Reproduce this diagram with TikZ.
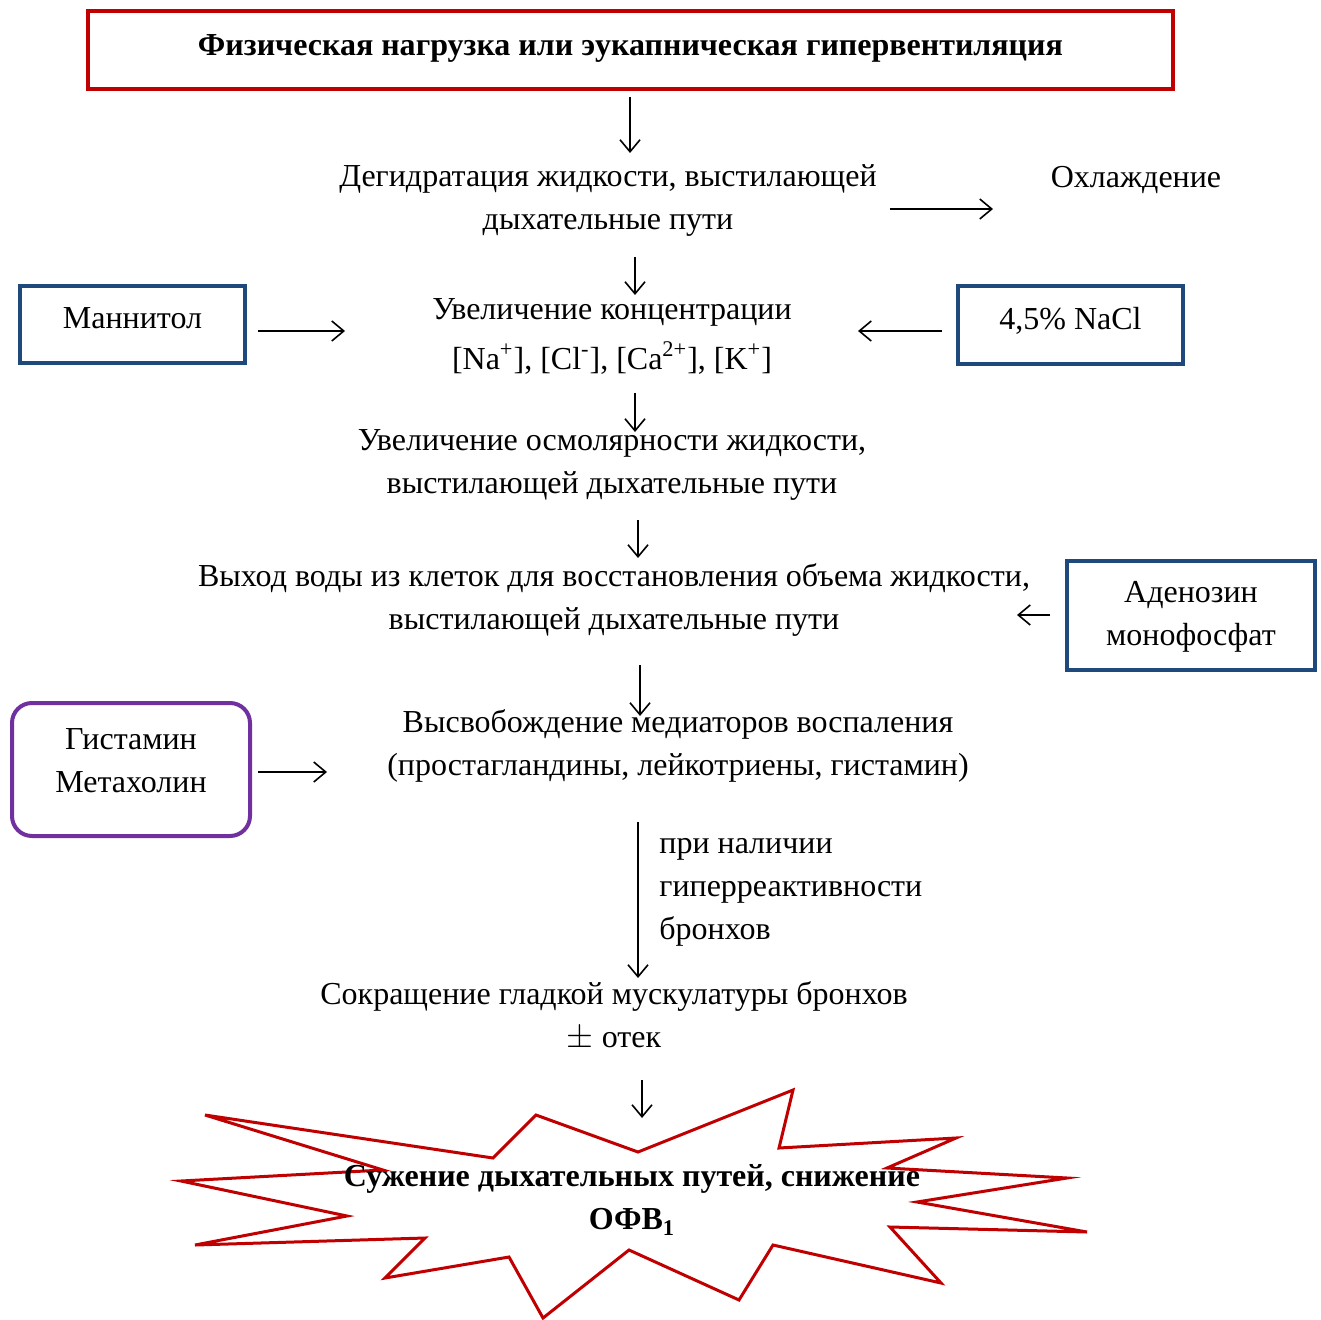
\documentclass[tikz,border=0pt]{standalone}
\usepackage{fontspec}
\setmainfont{Liberation Serif}
\usetikzlibrary{arrows.meta}
\definecolor{boxred}{RGB}{192,0,0}
\definecolor{boxblue}{RGB}{31,73,125}
\definecolor{boxviolet}{RGB}{112,48,160}
\tikzstyle{txt} = [align=center, inner sep=0pt, font=\fontsize{16}{21.5}\selectfont]
\tikzstyle{bluebox} = [txt, draw=boxblue, line width=2pt, minimum width=112.5pt]
\tikzstyle{arr} = [-{Straight Barb[length=6pt,width=10pt]}, line width=0.8pt]

\begin{document}
\begin{tikzpicture}[x=0.5pt, y=-0.5pt]
    \useasboundingbox (0,0) rectangle (1320,1320);
    % boxes and text
    \node[txt, draw=boxred, line width=2pt, minimum width=542.5pt, minimum height=39pt,
          font=\fontsize{16}{21.5}\selectfont\bfseries] (load) at (630.5,50)
          {Физическая нагрузка или эукапническая гипервентиляция\\[-17pt]};
    \node[txt] (dehyd) at (608,201) {Дегидратация жидкости, выстилающей\\дыхательные пути};
    \node[txt] (cool) at (1136,180) {Охлаждение};
    \node[txt] (conc) at (612,336) {Увеличение концентрации\\[3.5pt]
          [Na\textsuperscript{+}], [Cl\textsuperscript{-}], [Ca\textsuperscript{2+}], [K\textsuperscript{+}]};
    \node[bluebox, minimum height=38.5pt] (mann) at (132.5,324.5) {Маннитол\\[-15pt]};
    \node[bluebox, minimum height=39pt] (nacl) at (1070.5,325) {4,5\% NaCl\\[-15pt]};
    \node[txt] (osm) at (612,465) {Увеличение осмолярности жидкости,\\выстилающей дыхательные пути};
    \node[txt] (water) at (614,600) {Выход воды из клеток для восстановления объема жидкости,\\выстилающей дыхательные пути};
    \node[bluebox, minimum width=124pt, minimum height=54.5pt] (amp) at (1191,615.5) {Аденозин\\монофосфат\\[-19pt]};
    \node[txt] (med) at (678,746) {Высвобождение медиаторов воспаления\\(простагландины, лейкотриены, гистамин)};
    \node[txt, draw=boxviolet, line width=2pt, rounded corners=10pt, minimum width=119pt,
          minimum height=66.5pt] (hist) at (131,769.5) {Гистамин\\Метахолин\\[-12.5pt]};
    \node[txt, align=left, anchor=west] (cond) at (659,892) {при наличии\\гиперреактивности\\бронхов};
    \node[txt] (contr) at (614,1016) {Сокращение гладкой мускулатуры бронхов\\$\pm$ отек};
    % star
    \draw[boxred, line width=1.5pt, line join=miter]
        (205,1115) -- (493,1158) -- (536,1115) -- (638,1152) -- (793,1090) -- (779,1148)
        -- (956,1138) -- (887,1168) -- (1067,1178) -- (917,1202) -- (1087,1232) -- (890,1227)
        -- (941,1283) -- (773,1245) -- (739,1300) -- (629,1250) -- (543,1318) -- (509,1257)
        -- (385,1278) -- (425,1238) -- (195,1245) -- (347,1216) -- (181,1181) -- (383,1170)
        -- cycle;
    \node[txt, font=\fontsize{16}{21.5}\selectfont\bfseries] (fev) at (632,1200)
          {Сужение дыхательных путей, снижение\\ОФВ\textsubscript{1}};
    % arrow ends
    \coordinate (load-out) at (630,97);   \coordinate (dehyd-in) at (630,153);
    \coordinate (dehyd-r) at (890,209);   \coordinate (cool-in) at (993,209);
    \coordinate (dehyd-out) at (635,257); \coordinate (conc-in) at (635,295);
    \coordinate (mann-out) at (258,331);  \coordinate (conc-l) at (345,331);
    \coordinate (nacl-out) at (942,331);  \coordinate (conc-r) at (858,331);
    \coordinate (conc-out) at (635,393);  \coordinate (osm-in) at (635,432);
    \coordinate (osm-out) at (638,520);   \coordinate (water-in) at (638,558);
    \coordinate (amp-out) at (1050,615);  \coordinate (water-r) at (1017,615);
    \coordinate (water-out) at (640,665); \coordinate (med-in) at (640,716);
    \coordinate (hist-out) at (258,772);  \coordinate (med-l) at (327,772);
    \coordinate (med-out) at (638,822);   \coordinate (contr-in) at (638,978);
    \coordinate (contr-out) at (642,1080);\coordinate (fev-in) at (642,1118);
    % arrows
    \draw[arr] (load-out) -- (dehyd-in);
    \draw[arr] (dehyd-r) -- (cool-in);
    \draw[arr] (dehyd-out) -- (conc-in);
    \draw[arr] (mann-out) -- (conc-l);
    \draw[arr] (nacl-out) -- (conc-r);
    \draw[arr] (conc-out) -- (osm-in);
    \draw[arr] (osm-out) -- (water-in);
    \draw[arr] (amp-out) -- (water-r);
    \draw[arr] (water-out) -- (med-in);
    \draw[arr] (hist-out) -- (med-l);
    \draw[arr] (med-out) -- (contr-in);
    \draw[arr] (contr-out) -- (fev-in);
\end{tikzpicture}
\end{document}
